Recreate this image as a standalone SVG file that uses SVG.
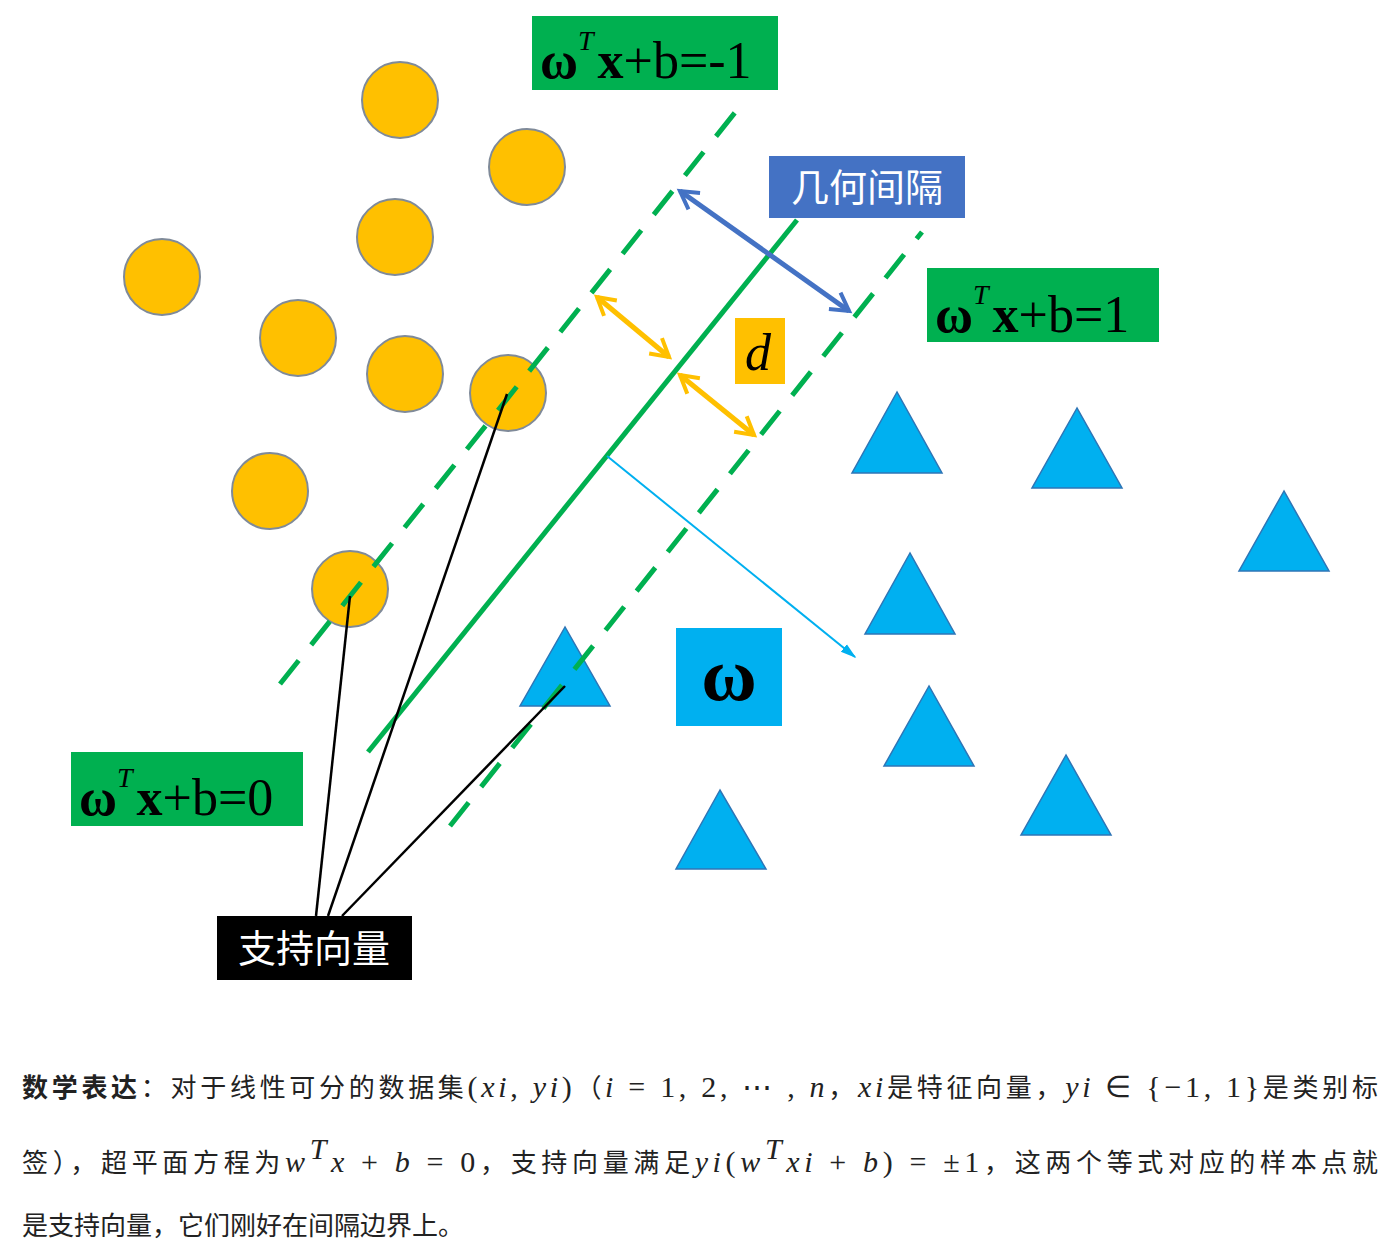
<svg xmlns="http://www.w3.org/2000/svg" width="1392" height="1254" viewBox="0 0 1392 1254">
<defs>
<style>
.c{fill:#FFC000;stroke:#7F8A99;stroke-width:2}
.t{fill:#00B0F0;stroke:#2E75B6;stroke-width:1.5}
.dash{stroke:#00B050;stroke-width:5;stroke-dasharray:30 20;fill:none}
.g{fill:#00B050}
.eq{font-family:"Liberation Serif",serif;font-size:52px;fill:#000}
.cj{font-family:"Noto Sans CJK SC",sans-serif}
.tx{font-family:"Noto Sans CJK SC",sans-serif;font-size:26px;fill:#222}
.m{font-family:"Liberation Serif",serif;font-style:italic;font-size:30px}
.r{font-family:"Liberation Serif",serif;font-style:normal;font-size:30px}
</style>
<marker id="ab" viewBox="0 0 10 10" refX="8" refY="5" markerWidth="5" markerHeight="5" orient="auto-start-reverse"><path d="M1,1 L8,5 L1,9" fill="none" stroke="#4472C4" stroke-width="1.6"/></marker>
<marker id="ao" viewBox="0 0 10 10" refX="8" refY="5" markerWidth="5" markerHeight="5" orient="auto-start-reverse"><path d="M1,1 L8,5 L1,9" fill="none" stroke="#FFC000" stroke-width="1.6"/></marker>
<marker id="al" viewBox="0 0 10 10" refX="9" refY="5" markerWidth="8" markerHeight="8" orient="auto"><path d="M0,2 L10,5 L0,8 z" fill="#00B0F0"/></marker>
</defs>
<rect width="1392" height="1254" fill="#fff"/>
<g id="connectors">
<line x1="368" y1="752" x2="797" y2="220" stroke="#00B050" stroke-width="5"/>
<line x1="680" y1="191" x2="849" y2="311" stroke="#4472C4" stroke-width="5" marker-start="url(#ab)" marker-end="url(#ab)"/>
<line x1="597" y1="297" x2="669" y2="357" stroke="#FFC000" stroke-width="5" marker-start="url(#ao)" marker-end="url(#ao)"/>
<line x1="680" y1="375" x2="754" y2="435" stroke="#FFC000" stroke-width="5" marker-start="url(#ao)" marker-end="url(#ao)"/>
<line x1="607" y1="456" x2="855" y2="657" stroke="#00B0F0" stroke-width="2" marker-end="url(#al)"/>
</g>
<g id="circles">
<circle class="c" cx="400" cy="100" r="38"/><circle class="c" cx="527" cy="167" r="38"/>
<circle class="c" cx="395" cy="237" r="38"/><circle class="c" cx="162" cy="277" r="38"/>
<circle class="c" cx="298" cy="338" r="38"/><circle class="c" cx="405" cy="374" r="38"/>
<circle class="c" cx="270" cy="491" r="38"/>
<circle class="c" cx="508" cy="393" r="38"/><circle class="c" cx="350" cy="589" r="38"/>
</g>
<g id="triangles">
<polygon class="t" points="897,392 852,473 942,473"/><polygon class="t" points="1077,408 1032,488 1122,488"/>
<polygon class="t" points="1284,491 1239,571 1329,571"/><polygon class="t" points="910,553 865,634 955,634"/>
<polygon class="t" points="929,686 884,766 974,766"/><polygon class="t" points="1066,755 1021,835 1111,835"/>
<polygon class="t" points="720,790 676,869 766,869"/><polygon class="t" points="565,627 520,706 610,706"/>
</g>
<g id="margin-lines">
<line class="dash" x1="280" y1="684" x2="745" y2="100"/>
<line class="dash" x1="450" y1="826" x2="922" y2="232"/>
</g>
<g id="support-links" stroke="#000" stroke-width="2.5">
<line x1="316" y1="916" x2="350" y2="596"/>
<line x1="328" y1="916" x2="507" y2="394"/>
<line x1="342" y1="916" x2="565" y2="686"/>
</g>
<g id="eq-neg1"><rect class="g" x="532" y="16" width="246" height="74"/>
<text class="eq" x="540" y="78"><tspan font-weight="bold">ω</tspan><tspan font-style="italic" font-size="28" dy="-28">T</tspan><tspan font-weight="bold" dy="28" dx="4">x</tspan>+b=-1</text></g>
<g id="eq-pos1"><rect class="g" x="927" y="268" width="232" height="74"/>
<text class="eq" x="935" y="332"><tspan font-weight="bold">ω</tspan><tspan font-style="italic" font-size="28" dy="-28">T</tspan><tspan font-weight="bold" dy="28" dx="4">x</tspan>+b=1</text></g>
<g id="eq-0"><rect class="g" x="71" y="752" width="232" height="74"/>
<text class="eq" x="79" y="815"><tspan font-weight="bold">ω</tspan><tspan font-style="italic" font-size="28" dy="-28">T</tspan><tspan font-weight="bold" dy="28" dx="4">x</tspan>+b=0</text></g>
<g id="margin-label"><rect x="769" y="156" width="196" height="62" fill="#4472C4"/>
<text class="cj" x="867" y="201" font-size="38" fill="#fff" text-anchor="middle">几何间隔</text></g>
<g id="d-label"><rect x="735" y="318" width="50" height="66" fill="#FFC000"/>
<text x="758" y="370" font-family="Liberation Serif,serif" font-style="italic" font-size="52" text-anchor="middle">d</text></g>
<g id="w-label"><rect x="676" y="628" width="106" height="98" fill="#00B0F0"/>
<text x="729" y="700" font-family="Liberation Serif,serif" font-weight="bold" font-size="76" text-anchor="middle">ω</text></g>
<g id="sv-label"><rect x="217" y="916" width="195" height="64" fill="#000"/>
<text class="cj" x="314" y="962" font-size="38" fill="#fff" text-anchor="middle">支持向量</text></g>
<g id="caption">
<text class="tx" x="22" y="1097" textLength="1356" lengthAdjust="spacing"><tspan font-weight="bold">数学表达</tspan>：对于线性可分的数据集<tspan class="r">(</tspan><tspan class="m">x</tspan><tspan class="m" font-size="20">i</tspan><tspan class="r">, </tspan><tspan class="m">y</tspan><tspan class="m" font-size="20">i</tspan><tspan class="r">)</tspan>（<tspan class="m">i</tspan><tspan class="r"> = 1, 2, ⋯ , </tspan><tspan class="m">n</tspan>，<tspan class="m">x</tspan><tspan class="m" font-size="20">i</tspan>是特征向量，<tspan class="m">y</tspan><tspan class="m" font-size="20">i</tspan><tspan class="r"> ∈ {−1, 1}</tspan>是类别标</text>
<text class="tx" x="22" y="1172" textLength="1356" lengthAdjust="spacing">签），超平面方程为<tspan class="m">w</tspan><tspan class="m" font-size="20" dy="-13">T</tspan><tspan class="m" dy="13">x</tspan><tspan class="r"> + </tspan><tspan class="m">b</tspan><tspan class="r"> = 0</tspan>，支持向量满足<tspan class="m">y</tspan><tspan class="m" font-size="20">i</tspan><tspan class="r">(</tspan><tspan class="m">w</tspan><tspan class="m" font-size="20" dy="-13">T</tspan><tspan class="m" dy="13">x</tspan><tspan class="m" font-size="20">i</tspan><tspan class="r"> + </tspan><tspan class="m">b</tspan><tspan class="r">) = ±1</tspan>，这两个等式对应的样本点就</text>
<text class="tx" x="22" y="1235">是支持向量，它们刚好在间隔边界上。</text>
</g>
</svg>
